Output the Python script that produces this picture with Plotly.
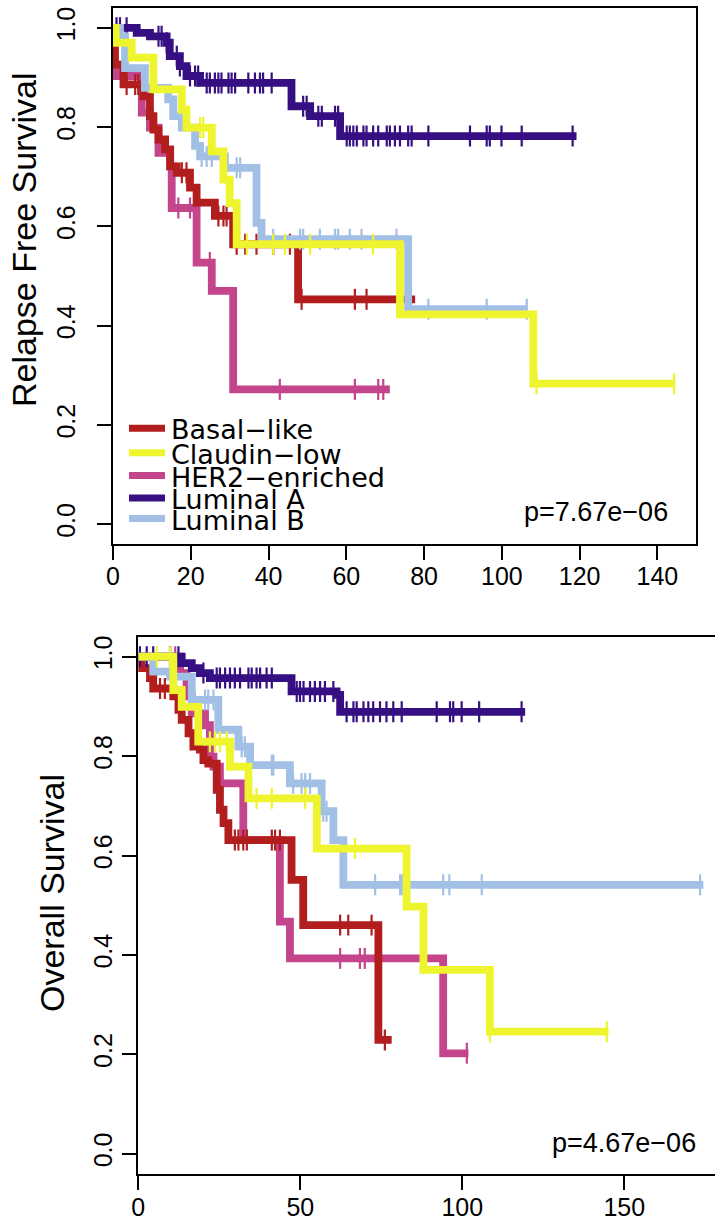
import plotly.graph_objects as go

W, H = 715, 1231

groups = ["Basal\u2212like", "Claudin\u2212low", "HER2\u2212enriched", "Luminal A", "Luminal B"]
colors = ["#B21E1E", "#EEF42E", "#C4458C", "#360F83", "#A2BFE6"]
draw_order = [2, 0, 3, 4, 1]

# ---------------- Relapse free survival (months) ----------------
rfs_basal_t = [0.3, 0.5, 2.7, 7.8, 9.5, 10.4, 11.7, 13.4, 14.7, 16.4, 19.8, 21.5, 26.2, 30.9, 47.6]
rfs_basal_s = [0.960, 0.926, 0.886, 0.862, 0.822, 0.795, 0.775, 0.755, 0.721, 0.708, 0.678, 0.648, 0.621, 0.564, 0.453]
rfs_basal_c = [3.5, 5.7, 6.5, 17.7, 18.9, 27.1, 28.4, 29.2, 31.8, 34.0, 36.9, 41.2, 45.5, 48.5, 62.2, 65.2, 76.2]
rfs_basal_end = 77.7

rfs_claudin_t = [0.7, 4.8, 10.4, 17.7, 18.9, 25.4, 28.4, 30.0, 31.8, 73.8, 108.1]
rfs_claudin_s = [0.970, 0.940, 0.876, 0.835, 0.799, 0.751, 0.694, 0.647, 0.564, 0.4225, 0.283]
rfs_claudin_c = [22.4, 23.2, 34.4, 41.2, 44.2, 50.7, 66.9, 108.9, 144.3]
rfs_claudin_end = 144.5

rfs_her2_t = [0.4, 0.9, 7.4, 9.5, 11.7, 14.7, 15.1, 21.5, 25.4, 30.9]
rfs_her2_s = [0.926, 0.903, 0.829, 0.799, 0.748, 0.721, 0.637, 0.527, 0.470, 0.2715]
rfs_her2_c = [16.8, 19.8, 24.9, 42.9, 62.2, 68.2, 69.5]
rfs_her2_end = 71.2

rfs_luma_t = [6.1, 9.5, 13.8, 14.6, 17.2, 18.9, 22.4, 45.9, 50.7, 58.4]
rfs_luma_s = [0.990, 0.983, 0.970, 0.943, 0.923, 0.903, 0.889, 0.842, 0.822, 0.782]
rfs_luma_c = [0.9, 1.8, 3.5, 11.7, 12.5, 13.8, 16.4, 17.2, 19.8, 21.1, 21.9, 24.1, 24.9, 26.2,
              27.1, 27.9, 29.7, 30.5, 31.4, 34.8, 36.5, 37.8, 38.6, 40.8, 48.9, 49.8, 52.8,
              53.7, 57.1, 57.9, 60.1, 60.9, 61.8, 62.7, 64.4, 65.2, 66.9, 68.2, 70.4, 71.2,
              72.5, 73.8, 75.9, 76.8, 81.1, 91.8, 96.1, 96.9, 99.9, 105.1, 118.2]
rfs_luma_end = 119.2

rfs_lumb_t = [1.8, 3.1, 8.2, 14.2, 15.5, 17.7, 21.1, 22.4, 28.8, 36.9, 38.2, 75.9]
rfs_lumb_s = [0.983, 0.919, 0.879, 0.856, 0.822, 0.799, 0.762, 0.741, 0.718, 0.607, 0.574, 0.433]
rfs_lumb_c = [22.8, 24.1, 25.4, 31.8, 32.7, 41.2, 48.1, 48.9, 53.2, 57.1, 57.9, 60.9, 63.9,
              72.9, 81.1, 96.1, 106.4]
rfs_lumb_end = 106.4

# ---------------- Overall survival (months) ----------------
os_basal_t = [1.0, 3.6, 4.6, 10.8, 12.4, 13.4, 15.5, 17.0, 19.0, 20.1, 21.6, 24.2, 25.2, 26.3, 27.8, 47.3, 50.9, 74.1]
os_basal_s = [0.977, 0.957, 0.936, 0.920, 0.893, 0.873, 0.846, 0.819, 0.813, 0.792, 0.785, 0.732, 0.692, 0.665, 0.631, 0.551, 0.460, 0.229]
os_basal_c = [6.7, 8.2, 29.8, 30.9, 32.4, 33.5, 41.2, 42.2, 43.7, 62.3, 64.8, 72.0, 76.1]
os_basal_end = 78.2

os_claudin_t = [10.8, 13.4, 18.5, 28.3, 34.0, 55.1, 82.8, 88.0, 108.5]
os_claudin_s = [0.933, 0.899, 0.829, 0.779, 0.715, 0.614, 0.497, 0.370, 0.2455]
os_claudin_c = [5.7, 9.8, 22.1, 23.7, 25.2, 27.3, 36.5, 41.2, 51.5, 66.9, 108.5, 144.6]
os_claudin_end = 145.1

os_her2_t = [12.9, 14.9, 16.5, 20.6, 22.1, 23.2, 25.2, 32.4, 43.7, 46.8, 94.1]
os_her2_s = [0.967, 0.920, 0.886, 0.862, 0.799, 0.779, 0.745, 0.631, 0.467, 0.393, 0.202]
os_her2_c = [9.8, 11.4, 62.3, 68.4, 69.9, 101.4]
os_her2_end = 101.9

os_luma_t = [13.4, 16.5, 19.0, 22.1, 47.3, 61.2, 62.3]
os_luma_s = [0.987, 0.977, 0.967, 0.957, 0.930, 0.923, 0.889]
os_luma_c = [0.5, 2.6, 4.6, 9.8, 12.4, 20.1, 24.2, 25.2, 26.8, 28.3, 29.8, 31.4, 34.0, 35.0,
             36.5, 37.6, 39.6, 41.2, 48.9, 49.9, 51.0, 53.0, 54.5, 56.1, 57.6, 60.2, 64.3,
             66.4, 67.4, 69.5, 71.0, 72.5, 74.6, 76.6, 78.7, 81.3, 92.1, 96.2, 97.2, 99.8,
             105.2, 118.3]
os_luma_end = 119.4

os_lumb_t = [4.6, 9.8, 16.5, 24.7, 30.9, 34.5, 46.8, 56.6, 60.2, 63.3]
os_lumb_s = [0.970, 0.960, 0.913, 0.853, 0.819, 0.782, 0.745, 0.689, 0.631, 0.541]
os_lumb_c = [20.6, 21.6, 23.2, 31.9, 32.9, 41.2, 41.7, 47.8, 50.4, 51.5, 53.0, 57.1, 58.1,
             73.1, 80.8, 81.3, 94.1, 96.0, 106.0, 173.4]
os_lumb_end = 174.4

rfs_data = [
    (rfs_basal_t, rfs_basal_s, rfs_basal_c, rfs_basal_end),
    (rfs_claudin_t, rfs_claudin_s, rfs_claudin_c, rfs_claudin_end),
    (rfs_her2_t, rfs_her2_s, rfs_her2_c, rfs_her2_end),
    (rfs_luma_t, rfs_luma_s, rfs_luma_c, rfs_luma_end),
    (rfs_lumb_t, rfs_lumb_s, rfs_lumb_c, rfs_lumb_end),
]
os_data = [
    (os_basal_t, os_basal_s, os_basal_c, os_basal_end),
    (os_claudin_t, os_claudin_s, os_claudin_c, os_claudin_end),
    (os_her2_t, os_her2_s, os_her2_c, os_her2_end),
    (os_luma_t, os_luma_s, os_luma_c, os_luma_end),
    (os_lumb_t, os_lumb_s, os_lumb_c, os_lumb_end),
]

rfs_pvalue = "p=7.67e\u221206"
os_pvalue = "p=4.67e\u221206"
rfs_ylabel = "Relapse Free Survival"
os_ylabel = "Overall Survival"
y_ticks = [0.0, 0.2, 0.4, 0.6, 0.8, 1.0]
rfs_xticks = [0, 20, 40, 60, 80, 100, 120, 140]
os_xticks = [0, 50, 100, 150]


def surv_at(times, surv, t):
    s = 1.0
    for ti, si in zip(times, surv):
        if ti <= t:
            s = si
    return s


fig = go.Figure()


def add_km(data, xa, ya):
    for gi in draw_order:
        times, surv, cens, end = data[gi]
        xs = [0.0] + list(times) + [end]
        ys = [1.0] + list(surv) + [surv[-1]]
        fig.add_trace(go.Scatter(
            x=xs, y=ys, mode="lines", xaxis=xa, yaxis=ya,
            line=dict(color=colors[gi], width=7.8, shape="hv"),
            name=groups[gi], showlegend=False, hoverinfo="skip"))
        fig.add_trace(go.Scatter(
            x=list(cens), y=[surv_at(times, surv, c) for c in cens],
            mode="markers", xaxis=xa, yaxis=ya,
            marker=dict(symbol="line-ns", size=15, color=colors[gi],
                        line=dict(color=colors[gi], width=2.2)),
            name=groups[gi], showlegend=False, hoverinfo="skip"))


add_km(rfs_data, "x", "y")
add_km(os_data, "x2", "y2")

tick_font = dict(family="Liberation Sans, Arial", size=25, color="black")
title_font = dict(family="Liberation Sans, Arial", size=34, color="black")

# plot geometry (pixels)
t_x0, t_x1, t_y0, t_y1 = 113.0, 696.3, 8.0, 544.0
b_x0, b_x1, b_y0, b_y1 = 138.3, 715.0, 636.8, 1173.6

common_axis = dict(showgrid=False, zeroline=False, showline=True, linecolor="black",
                   linewidth=2, ticks="outside", ticklen=14, tickwidth=2, tickcolor="black",
                   tickfont=tick_font, automargin=False)

fig.update_layout(
    width=W, height=H, autosize=False,
    margin=dict(l=0, r=0, t=0, b=0),
    paper_bgcolor="white", plot_bgcolor="white",
    showlegend=False,
    xaxis=dict(common_axis, domain=[t_x0 / W, t_x1 / W], range=[0, 150],
               tickvals=rfs_xticks, mirror=True, anchor="y", ticklabelstandoff=-5),
    yaxis=dict(common_axis, domain=[1 - t_y1 / H, 1 - t_y0 / H], range=[-0.04, 1.04],
               tickvals=y_ticks, tickformat=".1f", tickangle=-90, mirror=True,
               anchor="x", ticklabelstandoff=12),
    xaxis2=dict(common_axis, domain=[b_x0 / W, b_x1 / W], range=[0, (b_x1 - b_x0) / 3.24],
                tickvals=os_xticks, mirror=True, anchor="y2", ticklabelstandoff=-4),
    yaxis2=dict(common_axis, domain=[1 - b_y1 / H, 1 - b_y0 / H], range=[-0.04, 1.04],
                tickvals=y_ticks, tickformat=".1f", tickangle=-90, mirror=False,
                anchor="x2", ticklabelstandoff=0),
)

# y-axis titles
fig.add_annotation(x=24 / W, y=1 - 240 / H, xref="paper", yref="paper", text=rfs_ylabel,
                   textangle=-90, showarrow=False, xanchor="center", yanchor="middle",
                   font=title_font)
fig.add_annotation(x=52 / W, y=1 - 893 / H, xref="paper", yref="paper", text=os_ylabel,
                   textangle=-90, showarrow=False, xanchor="center", yanchor="middle",
                   font=title_font)

# legend (top panel)
legend_rows = [428.3, 452.7, 475.5, 498.0, 518.5]
legend_font = dict(family="DejaVu Sans", size=27, color="black")
for gi, py in enumerate(legend_rows):
    fig.add_shape(type="line", xref="paper", yref="paper",
                  x0=129 / W, x1=165 / W, y0=1 - py / H, y1=1 - py / H,
                  line=dict(color=colors[gi], width=7))
    fig.add_annotation(x=169 / W, y=1 - (py + 1.5) / H, xref="paper", yref="paper",
                       text=groups[gi], showarrow=False, xanchor="left", yanchor="middle",
                       font=legend_font)

pfont = dict(family="Liberation Sans, Arial", size=27, color="black")
fig.add_annotation(x=670 / W, y=1 - 511.7 / H, xref="paper", yref="paper", text=rfs_pvalue,
                   showarrow=False, xanchor="right", yanchor="middle", font=pfont)
fig.add_annotation(x=698 / W, y=1 - 1143 / H, xref="paper", yref="paper", text=os_pvalue,
                   showarrow=False, xanchor="right", yanchor="middle", font=pfont)

fig.write_html(
    "out.html",
    config={"displayModeBar": False},
    post_script="document.body.style.margin='0';document.body.style.padding='0';"
                "document.body.style.overflow='hidden';",
)
